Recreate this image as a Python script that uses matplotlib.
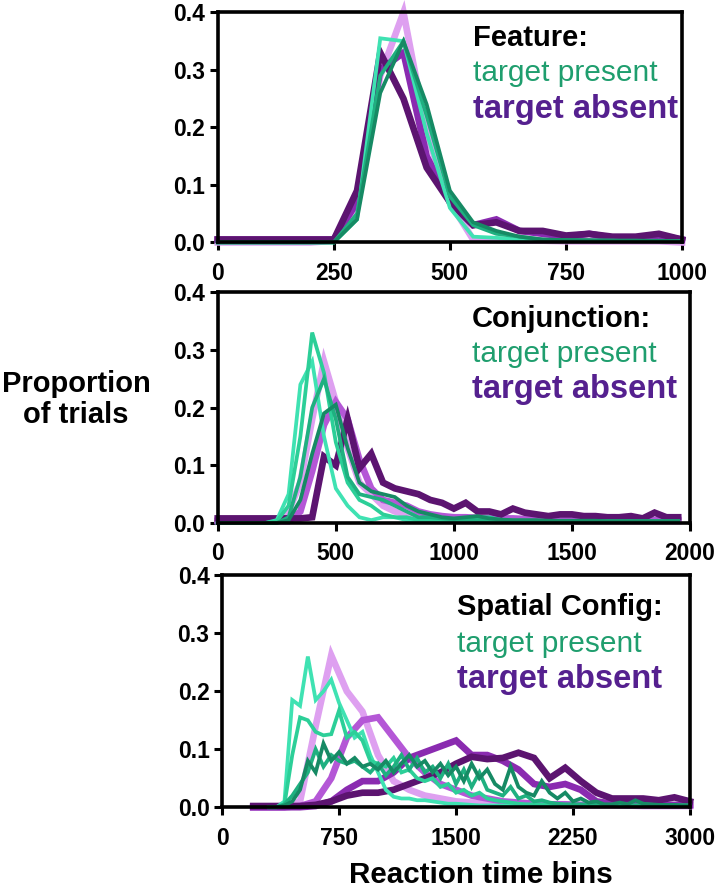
import matplotlib
matplotlib.use("Agg")
import matplotlib.pyplot as plt
import numpy as np

plt.rcParams['font.family'] = ['Liberation Sans', 'DejaVu Sans']
plt.rcParams['font.weight'] = 'bold'

# colours
LILAC = '#dea0f0'
ORCHID = '#b457d6'
PURPLE = '#8a2bb0'
DARK_PURPLE = '#5c1470'
TURQ = '#3fe2b2'
MINT = '#2ccf98'
GREEN = '#1fb080'
DARK_GREEN = '#168a64'
PRESENT_TXT = '#1f9e6e'
ABSENT_TXT = '#55208f'

# ---- Feature search (50 ms bins, 0..1000) ----
feat_x = [0, 50, 100, 150, 200, 250, 300, 350, 400, 450, 500, 550, 600, 650,
          700, 750, 800, 850, 900, 950, 1000]
feat_absent_lilac = [0.0, 0.0, 0.0, 0.0, 0.0, 0.003, 0.06, 0.29, 0.40, 0.19,
                     0.07, 0.005, 0.004, 0.003, 0.003, 0.002, 0.002, 0.002, 0.002, 0.002, 0.0]
feat_absent_purple = [0.005, 0.005, 0.005, 0.005, 0.005, 0.005, 0.07, 0.30, 0.33, 0.15,
                      0.07, 0.03, 0.04, 0.02, 0.015, 0.01, 0.015, 0.008, 0.008, 0.012, 0.005]
feat_absent_dark = [0.005, 0.005, 0.005, 0.005, 0.005, 0.005, 0.09, 0.33, 0.25, 0.13,
                    0.07, 0.03, 0.035, 0.02, 0.02, 0.012, 0.015, 0.01, 0.01, 0.015, 0.005]
feat_present_turq = [0.0, 0.0, 0.0, 0.0, 0.0, 0.0, 0.04, 0.355, 0.35, 0.19,
                     0.06, 0.01, 0.008, 0.005, 0.004, 0.003, 0.003, 0.003, 0.002, 0.002, 0.002]
feat_present_green = [0.0, 0.0, 0.0, 0.0, 0.0, 0.0, 0.05, 0.29, 0.35, 0.22,
                      0.08, 0.03, 0.015, 0.01, 0.005, 0.004, 0.003, 0.003, 0.003, 0.002, 0.002]
feat_present_dark = [0.0, 0.0, 0.0, 0.0, 0.0, 0.0, 0.04, 0.26, 0.35, 0.24,
                     0.09, 0.035, 0.02, 0.01, 0.005, 0.004, 0.004, 0.003, 0.003, 0.003, 0.002]

# ---- Conjunction search (50 ms bins, 0..1950) ----
conj_x = list(range(0, 2000, 50))
conj_absent_lilac = [0.005, 0.005, 0.005, 0.005, 0.005, 0.005, 0.02, 0.07, 0.18, 0.28,
                     0.21, 0.13, 0.07, 0.05, 0.03, 0.02, 0.015, 0.01, 0.008, 0.008,
                     0.006, 0.006, 0.005, 0.005, 0.005, 0.004, 0.004, 0.004, 0.004, 0.004,
                     0.003, 0.003, 0.003, 0.003, 0.003, 0.003, 0.003, 0.003, 0.003, 0.003]
conj_absent_purple = [0.003, 0.003, 0.003, 0.003, 0.003, 0.003, 0.003, 0.02, 0.09, 0.17,
                      0.21, 0.18, 0.11, 0.06, 0.04, 0.035, 0.03, 0.02, 0.015, 0.012,
                      0.01, 0.01, 0.009, 0.008, 0.008, 0.008, 0.007, 0.007, 0.007, 0.006,
                      0.006, 0.006, 0.006, 0.005, 0.005, 0.005, 0.005, 0.005, 0.005, 0.005]
conj_absent_dark = [0.008, 0.008, 0.008, 0.008, 0.008, 0.008, 0.008, 0.008, 0.01, 0.115,
                    0.10, 0.18, 0.095, 0.12, 0.07, 0.06, 0.055, 0.05, 0.04, 0.035,
                    0.025, 0.035, 0.02, 0.02, 0.015, 0.025, 0.018, 0.015, 0.012, 0.015,
                    0.015, 0.012, 0.012, 0.01, 0.01, 0.012, 0.008, 0.018, 0.01, 0.01]
conj_present_turq = [0.0, 0.0, 0.0, 0.0, 0.0, 0.005, 0.05, 0.24, 0.28, 0.15,
                     0.06, 0.03, 0.01, 0.005, 0.01, 0.01, 0.005, 0.004, 0.004, 0.003,
                     0.003, 0.003, 0.003, 0.003, 0.003, 0.002, 0.002, 0.002, 0.002, 0.002,
                     0.002, 0.002, 0.002, 0.002, 0.002, 0.002, 0.002, 0.002, 0.002, 0.002]
conj_present_mint = [0.0, 0.0, 0.0, 0.0, 0.0, 0.003, 0.03, 0.15, 0.33, 0.26,
                     0.14, 0.07, 0.04, 0.03, 0.015, 0.01, 0.01, 0.005, 0.005, 0.005,
                     0.005, 0.008, 0.01, 0.01, 0.005, 0.004, 0.004, 0.003, 0.003, 0.003,
                     0.003, 0.003, 0.003, 0.003, 0.003, 0.003, 0.003, 0.003, 0.003, 0.003]
conj_present_green = [0.0, 0.0, 0.0, 0.0, 0.0, 0.0, 0.01, 0.08, 0.20, 0.25,
                      0.18, 0.08, 0.05, 0.045, 0.04, 0.03, 0.02, 0.01, 0.01, 0.008,
                      0.006, 0.006, 0.005, 0.005, 0.005, 0.004, 0.004, 0.004, 0.003, 0.003,
                      0.003, 0.003, 0.003, 0.003, 0.003, 0.003, 0.003, 0.003, 0.003, 0.003]
conj_present_dark = [0.0, 0.0, 0.0, 0.0, 0.0, 0.0, 0.005, 0.04, 0.12, 0.19,
                     0.205, 0.13, 0.07, 0.055, 0.05, 0.045, 0.03, 0.02, 0.015, 0.01,
                     0.008, 0.01, 0.012, 0.008, 0.006, 0.005, 0.005, 0.005, 0.004, 0.004,
                     0.004, 0.004, 0.004, 0.003, 0.003, 0.003, 0.003, 0.003, 0.003, 0.003]

# ---- Spatial configuration search ----
# target absent: 100 ms bins from 200 to 3000
spat_x_absent = list(range(200, 3100, 100))
spat_absent_lilac = [0.0, 0.0, 0.0, 0.01, 0.14, 0.262, 0.20, 0.165, 0.09, 0.045,
                     0.03, 0.02, 0.015, 0.01, 0.008, 0.006, 0.005, 0.004, 0.004, 0.004,
                     0.003, 0.003, 0.003, 0.003, 0.003, 0.002, 0.002, 0.002, 0.002]
spat_absent_orchid = [0.0, 0.0, 0.0, 0.002, 0.01, 0.05, 0.12, 0.15, 0.155, 0.12,
                      0.085, 0.06, 0.04, 0.03, 0.02, 0.015, 0.01, 0.008, 0.006, 0.005,
                      0.005, 0.004, 0.004, 0.004, 0.003, 0.003, 0.003, 0.003, 0.003]
spat_absent_purple = [0.0, 0.0, 0.0, 0.0, 0.002, 0.01, 0.03, 0.045, 0.045, 0.06,
                      0.085, 0.095, 0.105, 0.115, 0.09, 0.09, 0.08, 0.065, 0.04, 0.035,
                      0.04, 0.03, 0.01, 0.006, 0.005, 0.005, 0.004, 0.004, 0.004]
spat_absent_dark = [0.002, 0.002, 0.002, 0.002, 0.004, 0.01, 0.02, 0.025, 0.025, 0.03,
                    0.04, 0.05, 0.06, 0.075, 0.087, 0.083, 0.085, 0.094, 0.085, 0.05,
                    0.068, 0.045, 0.025, 0.015, 0.015, 0.015, 0.012, 0.017, 0.01]
# target present: 50 ms bins from 300 to 3000
spat_x_present = list(range(300, 3050, 50))
spat_present_turq = [0.0, 0.0, 0.01, 0.185, 0.175, 0.26, 0.185, 0.2, 0.22, 0.18,
                     0.15, 0.12, 0.13, 0.09, 0.06, 0.03, 0.018, 0.015, 0.015, 0.012,
                     0.012, 0.01, 0.008, 0.006, 0.006, 0.005, 0.004, 0.003, 0.003, 0.003,
                     0.003, 0.003, 0.002, 0.002, 0.002, 0.002, 0.002, 0.002, 0.002, 0.002,
                     0.002, 0.002, 0.002, 0.002, 0.002, 0.002, 0.002, 0.002, 0.002, 0.002,
                     0.002, 0.002, 0.002, 0.002, 0.002]
spat_present_mint = [0.0, 0.0, 0.005, 0.09, 0.155, 0.15, 0.13, 0.124, 0.126, 0.167,
                     0.12, 0.13, 0.115, 0.08, 0.075, 0.07, 0.085, 0.06, 0.065, 0.05,
                     0.045, 0.05, 0.035, 0.04, 0.025, 0.03, 0.02, 0.025, 0.015, 0.012,
                     0.01, 0.008, 0.006, 0.005, 0.005, 0.005, 0.004, 0.004, 0.004, 0.004,
                     0.003, 0.003, 0.003, 0.003, 0.003, 0.003, 0.003, 0.003, 0.003, 0.003,
                     0.003, 0.003, 0.003, 0.003, 0.003]
spat_present_green = [0.0, 0.0, 0.005, 0.02, 0.04, 0.06, 0.10, 0.07, 0.09, 0.08,
                      0.075, 0.08, 0.07, 0.06, 0.075, 0.055, 0.07, 0.09, 0.065, 0.085,
                      0.06, 0.07, 0.05, 0.075, 0.04, 0.065, 0.035, 0.06, 0.03, 0.025,
                      0.02, 0.035, 0.015, 0.02, 0.01, 0.012, 0.008, 0.006, 0.005, 0.005,
                      0.005, 0.004, 0.004, 0.004, 0.004, 0.004, 0.003, 0.003, 0.003, 0.003,
                      0.003, 0.003, 0.003, 0.003, 0.003]
spat_present_dark = [0.0, 0.0, 0.003, 0.01, 0.03, 0.08, 0.06, 0.11, 0.08, 0.095,
                     0.075, 0.085, 0.07, 0.075, 0.065, 0.08, 0.06, 0.075, 0.09, 0.07,
                     0.08, 0.06, 0.075, 0.055, 0.07, 0.045, 0.075, 0.05, 0.065, 0.04,
                     0.03, 0.07, 0.035, 0.025, 0.02, 0.045, 0.025, 0.015, 0.025, 0.01,
                     0.015, 0.008, 0.01, 0.005, 0.005, 0.008, 0.005, 0.012, 0.006, 0.005,
                     0.004, 0.004, 0.004, 0.003, 0.003]

panels = [
    dict(title='Feature:', xmax=1000, xticks=[0, 250, 500, 750, 1000],
         rect=[0.302, 0.727, 0.644, 0.259], tx=0.55, ty=[0.852, 0.704, 0.543],
         absent=[(feat_x, feat_absent_lilac, LILAC), (feat_x, feat_absent_purple, PURPLE),
                 (feat_x, feat_absent_dark, DARK_PURPLE)],
         present=[(feat_x, feat_present_turq, TURQ), (feat_x, feat_present_green, GREEN),
                  (feat_x, feat_present_dark, DARK_GREEN)]),
    dict(title='Conjunction:', xmax=2000, xticks=[0, 500, 1000, 1500, 2000],
         rect=[0.302, 0.411, 0.655, 0.260], tx=0.538, ty=[0.848, 0.697, 0.541],
         absent=[(conj_x, conj_absent_lilac, LILAC), (conj_x, conj_absent_purple, ORCHID),
                 (conj_x, conj_absent_dark, DARK_PURPLE)],
         present=[(conj_x, conj_present_turq, TURQ), (conj_x, conj_present_mint, MINT),
                  (conj_x, conj_present_green, GREEN), (conj_x, conj_present_dark, DARK_GREEN)]),
    dict(title='Spatial Config:', xmax=3000, xticks=[0, 750, 1500, 2250, 3000],
         rect=[0.308, 0.091, 0.649, 0.261], tx=0.502, ty=[0.828, 0.668, 0.513],
         absent=[(spat_x_absent, spat_absent_lilac, LILAC),
                 (spat_x_absent, spat_absent_orchid, ORCHID),
                 (spat_x_absent, spat_absent_purple, PURPLE),
                 (spat_x_absent, spat_absent_dark, DARK_PURPLE)],
         present=[(spat_x_present, spat_present_turq, TURQ),
                  (spat_x_present, spat_present_mint, MINT),
                  (spat_x_present, spat_present_green, GREEN),
                  (spat_x_present, spat_present_dark, DARK_GREEN)]),
]

fig = plt.figure(figsize=(7.21, 8.88), dpi=100)

for p in panels:
    ax = fig.add_axes(p['rect'])
    for x, y, c in p['absent']:
        ax.plot(x, y, color=c, lw=4.8, solid_joinstyle='miter', clip_on=False)
    for x, y, c in p['present']:
        ax.plot(x, y, color=c, lw=2.7, solid_joinstyle='miter', clip_on=False)
    ax.set_xlim(0, p['xmax'])
    ax.set_ylim(0, 0.4)
    ax.set_xticks(p['xticks'])
    ax.set_yticks([0.0, 0.1, 0.2, 0.3, 0.4])
    ax.yaxis.set_major_formatter(matplotlib.ticker.FormatStrFormatter('%.1f'))
    for s in ax.spines.values():
        s.set_linewidth(2.6)
    ax.tick_params(axis='both', direction='out', length=6, width=2.2,
                   labelsize=16.5)
    ax.tick_params(axis='x', pad=8)
    ax.tick_params(axis='y', pad=3)
    for lab in ax.get_xticklabels() + ax.get_yticklabels():
        lab.set_fontweight('bold')
    ax.text(p['tx'], p['ty'][0], p['title'], transform=ax.transAxes,
            fontsize=21, fontweight='bold', color='black', va='baseline')
    ax.text(p['tx'], p['ty'][1], 'target present', transform=ax.transAxes,
            fontsize=21.5, fontweight='normal', color=PRESENT_TXT, va='baseline')
    ax.text(p['tx'], p['ty'][2], 'target absent', transform=ax.transAxes,
            fontsize=23.5, fontweight='bold', color=ABSENT_TXT, va='baseline')

fig.text(76 / 721, 1 - 392 / 888, 'Proportion', ha='center', va='baseline',
         fontsize=21, fontweight='bold')
fig.text(76 / 721, 1 - 423 / 888, 'of trials', ha='center', va='baseline',
         fontsize=21, fontweight='bold')
fig.text(481 / 721, 1 - 883 / 888, 'Reaction time bins', ha='center', va='baseline',
         fontsize=21.3, fontweight='bold')

fig.savefig('out.png', dpi=100)
